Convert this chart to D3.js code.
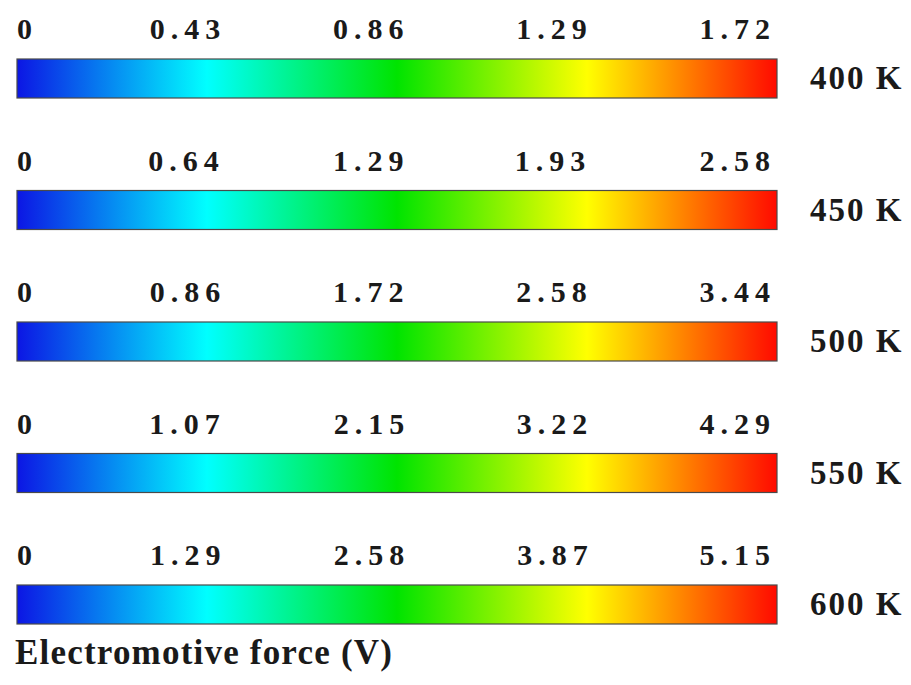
<!DOCTYPE html>
<html>
<head>
<meta charset="utf-8">
<script src="https://cdn.jsdelivr.net/npm/d3@7"></script>
<style>
  body { margin: 0; background: #fff; }
  text { font-family: "Liberation Serif", "Times New Roman", serif; font-weight: bold; fill: #1a1a1a; }
</style>
</head>
<body>
<div id="chart"></div>
<script>
const temperatures = ['400 K', '450 K', '500 K', '550 K', '600 K'];
const maxValues = [1.72, 2.58, 3.44, 4.29, 5.15];
const tickLabels = [
    ['0', '0.43', '0.86', '1.29', '1.72'],
    ['0', '0.64', '1.29', '1.93', '2.58'],
    ['0', '0.86', '1.72', '2.58', '3.44'],
    ['0', '1.07', '2.15', '3.22', '4.29'],
    ['0', '1.29', '2.58', '3.87', '5.15']
];
const colorStops = ['#0c16e4', '#00ffff', '#00e400', '#ffff00', '#ff0a00'];
const title = 'Electromotive force (V)';

const width = 911, height = 685;
const barLeft = 17, barRight = 777, barHeight = 39;
const tickSpacing = 6;

const svg = d3.select('#chart').append('svg')
    .attr('width', width)
    .attr('height', height);

// shared gradient
const grad = svg.append('defs').append('linearGradient')
    .attr('id', 'jet')
    .attr('x1', '0%').attr('x2', '100%')
    .attr('y1', '0%').attr('y2', '0%');
grad.selectAll('stop')
    .data(colorStops)
    .join('stop')
    .attr('offset', (d, i) => (i / (colorStops.length - 1) * 100) + '%')
    .attr('stop-color', d => d);

const rowY = d3.scaleLinear()
    .domain([0, temperatures.length - 1])
    .range([59, 585]);

temperatures.forEach((t, i) => {
    const y0 = rowY(i);
    const x = d3.scaleLinear().domain([0, maxValues[i]]).range([barLeft, barRight]);
    // labels sit a bit left of their tick
    const xl = d3.scaleLinear().domain([0, maxValues[i]]).range([37, 770]);
    const g = svg.append('g');

    g.append('rect')
        .attr('x', x(0))
        .attr('y', y0)
        .attr('width', x(maxValues[i]) - x(0))
        .attr('height', barHeight)
        .attr('fill', 'url(#jet)')
        .attr('stroke', '#4a4a4a')
        .attr('stroke-width', 1.2);

    g.selectAll('text.tick')
        .data(tickLabels[i])
        .join('text')
        .attr('class', 'tick')
        .attr('x', (d, j) => j === 0 ? barLeft : xl(+d) + tickSpacing)
        .attr('y', y0 - 20)
        .attr('text-anchor', (d, j) => j === 0 ? 'start' : 'end')
        .style('font-size', '30px')
        .style('letter-spacing', tickSpacing + 'px')
        .text(d => d);

    g.append('text')
        .attr('x', 810)
        .attr('y', y0 + 30)
        .style('font-size', '33px')
        .style('letter-spacing', '2px')
        .text(t);
});

svg.append('text')
    .attr('x', 15)
    .attr('y', 664)
    .style('font-size', '35px')
    .style('letter-spacing', '1.2px')
    .text(title);
</script>
</body>
</html>
